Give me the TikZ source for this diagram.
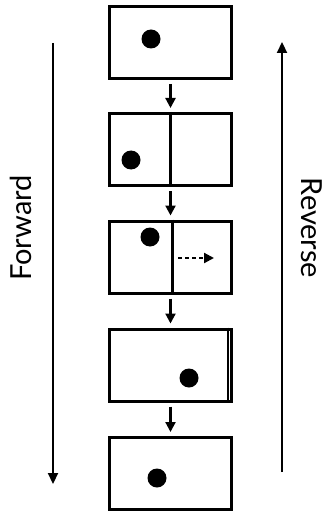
\documentclass[tikz,border=0pt]{standalone}
\usepackage{fontspec}
\setmainfont{Lato}
\usetikzlibrary{arrows.meta}
\begin{document}
\begin{tikzpicture}[x=1pt,y=-1pt,
  stage/.style={draw,line width=3pt,minimum width=122pt,minimum height=72pt,inner sep=0pt},
  ball/.style={circle,fill=black,minimum size=19pt,inner sep=0pt},
  flow/.style={line width=2.2pt,-{Triangle[length=10pt,width=10pt]}},
  bigflow/.style={line width=2.2pt,-{Triangle[length=11pt,width=10pt]}},
  label/.style={font=\fontsize{29}{33}\selectfont,inner sep=0pt}]
\useasboundingbox (0,0) rectangle (328,513);
\node[stage] (b1) at (170.5,42.5) {};
\node[stage] (b2) at (170.5,149.5) {};
\node[stage] (b3) at (170.5,257) {};
\node[stage] (b4) at (170.5,365) {};
\node[stage] (b5) at (170.5,473.5) {};
\draw[line width=3pt] (b2.north) -- (b2.south);
\draw[line width=3pt] ([xshift=1.5pt]b3.north) -- ([xshift=1.5pt]b3.south);
\draw[line width=2pt] ([xshift=-5pt]b4.north east) -- ([xshift=-5pt]b4.south east);
\node[ball] (d1) at (151,39) {};
\node[ball] (d2) at (131,160) {};
\node[ball] (d3) at (150,237) {};
\node[ball] (d4) at (189,378) {};
\node[ball] (d5) at (157,478) {};
\coordinate (m0) at (178,258);
\coordinate (m1) at (214,258);
\draw[line width=2.2pt,dash pattern=on 3.5pt off 3.5pt,-{Triangle[length=10pt,width=10pt]}] (m0) -- (m1);
\foreach \a/\b in {b1/b2,b2/b3,b3/b4,b4/b5}
  \draw[flow,shorten <=4pt,shorten >=4pt] (\a.south) -- (\b.north);
\coordinate (f0) at (53,43);
\coordinate (f1) at (53,484);
\draw[bigflow] (f0) -- (f1);
\coordinate (r0) at (282,472);
\coordinate (r1) at (282,42);
\draw[bigflow] (r0) -- (r1);
\node[label,rotate=90] (fw) at (21,228) {Forward};
\node[label,rotate=-90] (rv) at (312,228) {Reverse};
\end{tikzpicture}
\end{document}
